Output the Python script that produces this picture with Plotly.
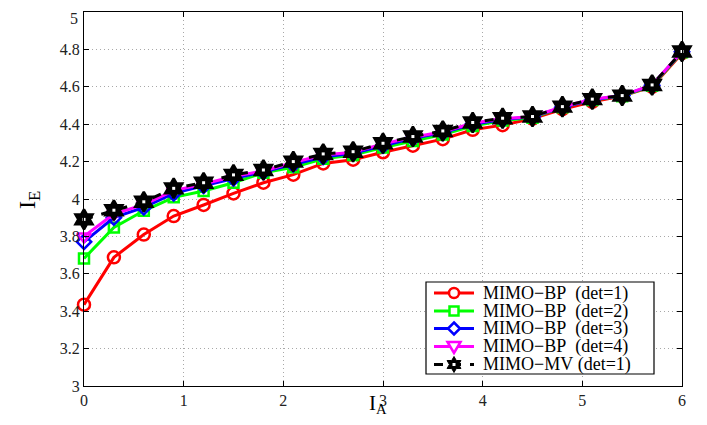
import math
import plotly.graph_objects as go

x_vals = [0, 0.3, 0.6, 0.9, 1.2, 1.5, 1.8, 2.1, 2.4, 2.7, 3.0, 3.3, 3.6, 3.9, 4.2, 4.5, 4.8, 5.1, 5.4, 5.7, 6.0]
bp_det1 = [3.435, 3.688, 3.81, 3.909, 3.968, 4.03, 4.087, 4.13, 4.19, 4.21, 4.25, 4.285, 4.32, 4.37, 4.395, 4.43, 4.48, 4.52, 4.55, 4.60, 4.78]
bp_det2 = [3.682, 3.848, 3.937, 4.009, 4.043, 4.087, 4.14, 4.17, 4.215, 4.235, 4.275, 4.31, 4.345, 4.39, 4.42, 4.435, 4.49, 4.53, 4.55, 4.605, 4.785]
bp_det3 = [3.771, 3.90, 3.955, 4.03, 4.07, 4.11, 4.145, 4.185, 4.225, 4.245, 4.285, 4.325, 4.355, 4.40, 4.425, 4.44, 4.49, 4.53, 4.553, 4.608, 4.787]
bp_det4 = [3.80, 3.92, 3.97, 4.045, 4.08, 4.12, 4.15, 4.195, 4.235, 4.25, 4.295, 4.33, 4.36, 4.405, 4.43, 4.44, 4.493, 4.533, 4.553, 4.61, 4.789]
mv_det1 = [3.891, 3.94, 3.985, 4.057, 4.087, 4.129, 4.155, 4.20, 4.241, 4.253, 4.298, 4.334, 4.364, 4.409, 4.432, 4.441, 4.494, 4.534, 4.553, 4.61, 4.789]

y_tick_vals = [3.0, 3.2, 3.4, 3.6, 3.8, 4.0, 4.2, 4.4, 4.6, 4.8, 5.0]
y_tick_text = ["3", "3.2", "3.4", "3.6", "3.8", "4", "4.2", "4.4", "4.6", "4.8", ""]
top_tick_label = "5"

names = ["MIMO\u2212BP\u00a0\u00a0(det=1)", "MIMO\u2212BP\u00a0\u00a0(det=2)", "MIMO\u2212BP\u00a0\u00a0(det=3)",
         "MIMO\u2212BP\u00a0\u00a0(det=4)", "MIMO\u2212MV\u00a0(det=1)"]
series = [bp_det1, bp_det2, bp_det3, bp_det4, mv_det1]
colors = ["#ff0000", "#00ff00", "#0000ff", "#ff00ff", "#000000"]
symbols = ["circle-open", "square-open", "diamond-open", "triangle-down-open", "hexagram"]
sizes = [12, 10, 11, 12, 15]
dashes = ["solid", "solid", "solid", "solid", "dash"]

# The page body adds an 8px margin; the figure is sized/offset to compensate.
OFF = 8
W, H = 707 - OFF, 425 - OFF
# plot area in screen pixels
SL, SR, ST, SB = 84, 682, 12, 386
L, R, T, B = SL - OFF, SR - OFF, ST - OFF, SB - OFF


def px(xs):  # screen x -> paper
    return (xs - SL) / (SR - SL)


def py(ys):  # screen y -> paper
    return (SB - ys) / (SB - ST)


fig = go.Figure()
for y, n, c, s, sz, d in zip(series, names, colors, symbols, sizes, dashes):
    fig.add_trace(go.Scatter(
        x=x_vals, y=y, name=n, mode="lines+markers", showlegend=False,
        line=dict(color=c, width=3, dash=d),
        marker=dict(symbol=s, size=sz, color=c, line=dict(color=c, width=2.5)),
        cliponaxis=False,
    ))
# white centre dots on the star markers
fig.add_trace(go.Scatter(x=x_vals, y=mv_det1, mode="markers", showlegend=False,
                         marker=dict(symbol="square", size=3, color="white"), cliponaxis=False))

font_family = "Liberation Serif"
axis_common = dict(
    showline=True, linecolor="black", linewidth=1.2, mirror="ticks",
    ticks="inside", ticklen=5, tickcolor="black",
    showgrid=True, gridcolor="#a8a8a8", griddash="1px,3px", gridwidth=1,
    zeroline=False, automargin=False, ticklabeloverflow="allow",
    tickfont=dict(family=font_family, size=16, color="#222"),
)

# ---- custom legend (box, samples, labels) ----
shapes = []
annotations = []
box = dict(x0=426, x1=654, y0=282, y1=374)
shapes.append(dict(type="rect", xref="paper", yref="paper", layer="above",
                   x0=px(box["x0"]), x1=px(box["x1"]), y0=py(box["y1"]), y1=py(box["y0"]),
                   line=dict(color="black", width=1.2), fillcolor="white"))
row_y = [293, 311, 328.5, 346.5, 364.5]
lx0, lx1, mx = 434, 474, 454
for i, (n, c, s, d) in enumerate(zip(names, colors, symbols, dashes)):
    ry = row_y[i]
    shapes.append(dict(type="line", xref="paper", yref="paper", layer="above",
                       x0=px(lx0), x1=px(lx1), y0=py(ry), y1=py(ry),
                       line=dict(color=c, width=3, dash="dash" if d == "dash" else "solid")))
    r = 5
    if s == "circle-open":
        shapes.append(dict(type="circle", xref="paper", yref="paper", layer="above",
                           x0=px(mx - r), x1=px(mx + r), y0=py(ry + r), y1=py(ry - r),
                           line=dict(color=c, width=2.5), fillcolor="white"))
    else:
        if s == "square-open":
            pts = [(mx - 4.5, ry - 4.5), (mx + 4.5, ry - 4.5), (mx + 4.5, ry + 4.5), (mx - 4.5, ry + 4.5)]
            fill = "white"
        elif s == "diamond-open":
            pts = [(mx, ry - 6), (mx + 6, ry), (mx, ry + 6), (mx - 6, ry)]
            fill = "white"
        elif s == "triangle-down-open":
            pts = [(mx - 6.5, ry - 4.5), (mx + 6.5, ry - 4.5), (mx, ry + 6.5)]
            fill = "white"
        else:
            Ro, Ri = 8, 8 / math.sqrt(3)
            pts = []
            for k in range(12):
                ang = math.pi / 2 + k * math.pi / 6
                rr = Ro if k % 2 == 0 else Ri
                pts.append((mx + rr * math.cos(ang), ry - rr * math.sin(ang)))
            fill = "black"
        path = "M " + " L ".join(f"{px(a):.5f},{py(b):.5f}" for a, b in pts) + " Z"
        shapes.append(dict(type="path", xref="paper", yref="paper", layer="above", path=path,
                           line=dict(color=c, width=2.5 if fill == "white" else 1), fillcolor=fill))
    if s == "hexagram":
        shapes.append(dict(type="rect", xref="paper", yref="paper", layer="above",
                           x0=px(mx - 1.5), x1=px(mx + 1.5), y0=py(ry + 1.5), y1=py(ry - 1.5),
                           line=dict(width=0), fillcolor="white"))
    annotations.append(dict(text=n, xref="paper", yref="paper", x=px(481), y=py(ry),
                            xanchor="left", yanchor="middle", showarrow=False,
                            font=dict(family=font_family, size=18, color="black")))

# top y tick label, nudged down so the page edge does not clip it
annotations.append(dict(text=top_tick_label, xref="paper", yref="paper", x=px(80), y=py(8),
                        xanchor="right", yanchor="top", showarrow=False,
                        font=dict(family=font_family, size=16, color="#222")))

# axis titles
annotations.append(dict(text="I<sub>A</sub>", xref="paper", yref="paper", x=px(378), y=py(389),
                        xanchor="center", yanchor="top", showarrow=False,
                        font=dict(family=font_family, size=21, color="black")))
annotations.append(dict(text="I<sub>E</sub>", xref="paper", yref="paper", x=px(29), y=py(200),
                        xanchor="center", yanchor="middle", showarrow=False, textangle=-90,
                        font=dict(family=font_family, size=24, color="black")))

fig.update_layout(
    width=W, height=H,
    margin=dict(l=L, r=W - R, t=T, b=H - B),
    paper_bgcolor="white", plot_bgcolor="white",
    showlegend=False,
    xaxis=dict(range=[0, 6], dtick=1, **axis_common),
    yaxis=dict(range=[3, 5], tickmode="array", tickvals=y_tick_vals, ticktext=y_tick_text, **axis_common),
    shapes=shapes, annotations=annotations,
)
fig.write_html("out.html")
